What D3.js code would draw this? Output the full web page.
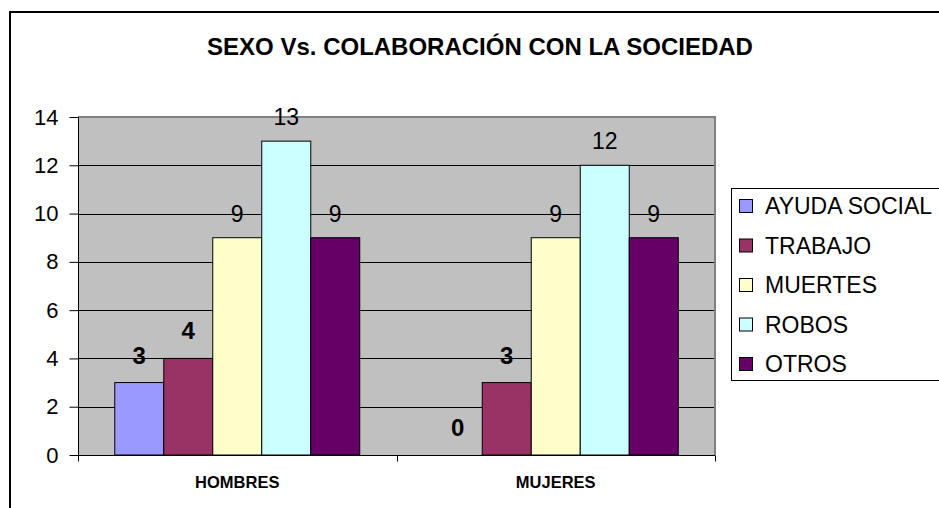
<!DOCTYPE html>
<html>
<head>
<meta charset="utf-8">
<script src="https://cdn.jsdelivr.net/npm/d3@7"></script>
<style>
  body { margin: 0; background: #fff; }
  svg { display: block; font-family: "Liberation Sans", Arial, sans-serif; }
</style>
</head>
<body>
<div id="chart"></div>
<script>
// data
const categories = ['HOMBRES', 'MUJERES'];
const series = ['AYUDA SOCIAL', 'TRABAJO', 'MUERTES', 'ROBOS', 'OTROS'];
const ayudaSocial = [3, 0];
const trabajo = [4, 3];
const muertes = [9, 9];
const robos = [13, 12];
const otros = [9, 9];
const yTicks = [0, 2, 4, 6, 8, 10, 12, 14];

const colors = ['#9999ff', '#993366', '#ffffcc', '#ccffff', '#660066'];
const boldLabels = [true, true, false, false, false];
const values = [ayudaSocial, trabajo, muertes, robos, otros];

const width = 939;
const height = 508;
const plot = { left: 78, right: 715, top: 117, bottom: 455 };

const svg = d3.select('#chart')
    .append('svg')
    .attr('width', width)
    .attr('height', height);

// outer frame (runs off the page on right and bottom)
svg.append('rect')
    .attr('x', 10)
    .attr('y', 12)
    .attr('width', 1000)
    .attr('height', 1000)
    .attr('fill', 'none')
    .attr('stroke', '#000')
    .attr('stroke-width', 2);

svg.append('text')
    .attr('x', 480)
    .attr('y', 55)
    .attr('text-anchor', 'middle')
    .attr('font-size', 24)
    .attr('font-weight', 'bold')
    .text('SEXO Vs. COLABORACIÓN CON LA SOCIEDAD');

const y = d3.scaleLinear()
    .domain([0, 14])
    .range([plot.bottom, plot.top]);

const x = d3.scaleBand()
    .domain(categories)
    .range([plot.left, plot.right]);

const xSeries = d3.scaleBand()
    .domain(series)
    .range([0, x.bandwidth()])
    .paddingInner(0)
    .paddingOuter(0.75);

// plot background
svg.append('rect')
    .attr('x', plot.left)
    .attr('y', plot.top)
    .attr('width', plot.right - plot.left)
    .attr('height', plot.bottom - plot.top)
    .attr('fill', '#c0c0c0');

// gridlines
svg.append('g')
    .selectAll('line')
    .data(yTicks.filter(t => t > 0 && t < 14))
    .enter()
    .append('line')
    .attr('x1', plot.left)
    .attr('x2', plot.right)
    .attr('y1', d => Math.round(y(d)) + 0.5)
    .attr('y2', d => Math.round(y(d)) + 0.5)
    .attr('stroke', '#000');

// gray plot border top and right
svg.append('path')
    .attr('d', `M${plot.left},${plot.top}H${plot.right}V${plot.bottom}`)
    .attr('fill', 'none')
    .attr('stroke', '#808080')
    .attr('stroke-width', 2);

// y axis
const yAxis = svg.append('g')
    .attr('transform', `translate(${plot.left + 0.5},0)`)
    .call(d3.axisLeft(y).tickValues(yTicks).tickSize(9).tickPadding(11));
yAxis.select('.domain').attr('d', `M0,${plot.top}V${plot.bottom + 5}`);
yAxis.selectAll('text')
    .attr('font-size', 22)
    .attr('fill', '#000');
yAxis.attr('font-family', null);

// bars
const bars = [];
categories.forEach((c, ci) => {
    series.forEach((s, si) => {
        bars.push({ cat: c, ser: s, si: si, value: values[si][ci] });
    });
});

svg.append('g')
    .selectAll('rect')
    .data(bars)
    .enter()
    .append('rect')
    .attr('x', d => x(d.cat) + xSeries(d.ser))
    .attr('y', d => y(d.value))
    .attr('width', xSeries.bandwidth())
    .attr('height', d => y(0) - y(d.value))
    .attr('fill', d => colors[d.si])
    .attr('stroke', '#000')
    .attr('stroke-width', 1);

// value labels
svg.append('g')
    .selectAll('text')
    .data(bars)
    .enter()
    .append('text')
    .attr('x', d => x(d.cat) + xSeries(d.ser) + xSeries.bandwidth() / 2)
    .attr('y', d => y(d.value) - (boldLabels[d.si] ? 19 : 16))
    .attr('text-anchor', 'middle')
    .attr('font-size', d => boldLabels[d.si] ? 24 : 23)
    .attr('font-weight', d => boldLabels[d.si] ? 'bold' : 'normal')
    .text(d => d.value);

// x axis
const xAxis = svg.append('g')
    .attr('transform', `translate(0,${plot.bottom + 0.5})`);
xAxis.append('line')
    .attr('x1', plot.left)
    .attr('x2', plot.right)
    .attr('stroke', '#000');
xAxis.selectAll('.tick')
    .data([plot.left, x('MUJERES'), plot.right])
    .enter()
    .append('line')
    .attr('x1', d => Math.round(d) + 0.5)
    .attr('x2', d => Math.round(d) + 0.5)
    .attr('y1', 0)
    .attr('y2', 6)
    .attr('stroke', '#000');
xAxis.selectAll('text')
    .data(categories)
    .enter()
    .append('text')
    .attr('x', d => x(d) + x.bandwidth() / 2)
    .attr('y', 32)
    .attr('text-anchor', 'middle')
    .attr('font-size', 16.5)
    .attr('font-weight', 'bold')
    .text(d => d);

// legend
const legend = svg.append('g');
legend.append('rect')
    .attr('x', 731.5)
    .attr('y', 188.5)
    .attr('width', 300)
    .attr('height', 192)
    .attr('fill', '#fff')
    .attr('stroke', '#000');

const item = legend.selectAll('g.item')
    .data(series)
    .enter()
    .append('g')
    .attr('class', 'item')
    .attr('transform', (d, i) => `translate(739,${206 + i * 39.5})`);
item.append('rect')
    .attr('x', 0.5)
    .attr('y', -6.5)
    .attr('width', 13)
    .attr('height', 13)
    .attr('fill', (d, i) => colors[i])
    .attr('stroke', '#000');
item.append('text')
    .attr('x', 26)
    .attr('y', 8)
    .attr('font-size', 23)
    .text(d => d);
</script>
</body>
</html>
